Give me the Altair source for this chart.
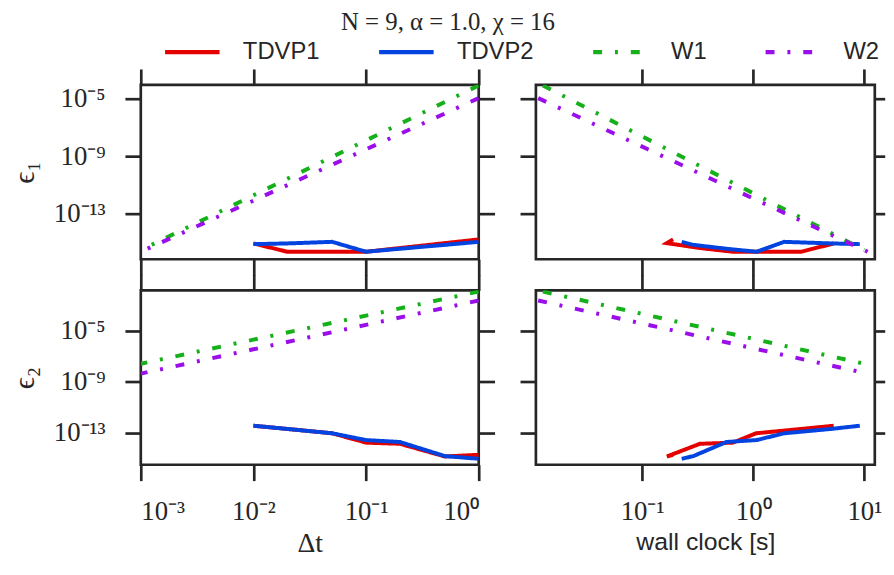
import altair as alt
import pandas as pd

# ---------------- data ----------------
methods = ["TDVP1", "TDVP2", "W1", "W2"]
colors = ["#e50000", "#0343df", "#15b01a", "#9a0eea"]

# TDVP runs (time steps, in plotting order)
tdvp_dt = [1.0, 0.5, 0.2, 0.1, 0.05, 0.02, 0.01]
tdvp1_eps1_log10 = [-14.79, -15.05, -15.39, -15.65, -15.65, -15.65, -15.07]
tdvp1_eps2_log10 = [-14.70, -14.83, -13.84, -13.75, -13.02, -12.68, -12.43]
tdvp1_wall = [0.19, 0.167, 0.331, 0.656, 1.06, 2.7, 5.3]
tdvp2_eps1_log10 = [-14.96, -15.17, -15.44, -15.65, -14.96, -15.07, -15.12]
tdvp2_eps2_log10 = [-15.01, -14.80, -13.70, -13.55, -13.02, -12.68, -12.43]
tdvp2_wall = [0.227, 0.289, 0.573, 1.07, 1.9, 5.0, 9.1]

# W^I / W^II runs
w_dt = [1.0, 0.1, 0.01, 0.001]
w1_eps1_log10 = [-4.08, -7.90, -11.72, -15.53]
w2_eps1_log10 = [-4.96, -8.52, -12.09, -15.65]
w1_eps2_log10 = [-1.95, -3.83, -5.71, -7.59]
w2_eps2_log10 = [-2.65, -4.55, -6.46, -8.36]
w1_wall = [0.0128, 0.1175, 1.084, 10.0]
w2_wall = [0.0116, 0.1127, 1.099, 10.7]

dt_ticks = [1e-3, 1e-2, 1e-1, 1.0]
wall_ticks = [0.1, 1.0, 10.0]
eps_ticks = [1e-13, 1e-9, 1e-5]

rows = []
def add(method, dts, e1, e2, wall):
    for i, (d, a, b, w) in enumerate(zip(dts, e1, e2, wall)):
        rows.append(dict(method=method, step=i, dt=d, wall=w,
                         eps1=10 ** a, eps2=10 ** b))

add("TDVP1", tdvp_dt, tdvp1_eps1_log10, tdvp1_eps2_log10, tdvp1_wall)
add("TDVP2", tdvp_dt, tdvp2_eps1_log10, tdvp2_eps2_log10, tdvp2_wall)
add("W1", w_dt, w1_eps1_log10, w1_eps2_log10, w1_wall)
add("W2", w_dt, w2_eps1_log10, w2_eps2_log10, w2_wall)
df = pd.DataFrame(rows)

# ---------------- styling ----------------
INK = "#262626"
SERIF = "Liberation Serif"
SANS = "Liberation Sans"
SUP = {"-": "\u207b", "0": "\u2070", "1": "\u00b9", "2": "\u00b2", "3": "\u00b3",
       "4": "\u2074", "5": "\u2075", "6": "\u2076", "7": "\u2077", "8": "\u2078", "9": "\u2079"}

def label_expr(exps):
    e = "round(log(datum.value)/LN10)"
    expr = "''"
    for k in exps:
        lab = "10" + "".join(SUP[c] for c in str(k))
        expr = f"({e} == {k}) ? '{lab}' : {expr}"
    return expr

dashes = [[1, 0], [1, 0], [9, 13, 3, 13], [9, 13, 3, 13]]
cscale = alt.Scale(domain=methods, range=colors)
dscale = alt.Scale(domain=methods, range=dashes)

legend = alt.Legend(orient="none", legendX=22, legendY=-63, direction="horizontal",
                    columns=4, title=None, symbolType="stroke", symbolSize=3025,
                    symbolStrokeWidth=4.5, labelFont=SANS, labelFontSize=24,
                    labelColor=INK, labelOffset=21, columnPadding=50)

def axis(orient, values, exps=None, title=None, title_font=SERIF, title_size=30,
         tick=16, title_pad=10, label_pad=20):
    kw = dict(orient=orient, values=values, tickSize=tick, tickWidth=2.7,
              tickColor=INK, domain=False, grid=False)
    if exps is not None:
        kw.update(labels=True, labelExpr=label_expr(exps), labelFont=SERIF,
                  labelFontSize=27, labelColor=INK, labelPadding=label_pad)
    else:
        kw.update(labels=False)
    if title is not None:
        kw.update(title=title, titleFont=title_font, titleFontSize=title_size,
                  titleFontWeight="normal", titleColor=INK, titlePadding=title_pad)
    else:
        kw.update(title=None)
    return alt.Axis(**kw)

def panel(xfield, yfield, xdom, ydom, xticks, width, xexps=None, yexps=None,
          xtitle=None, xtitle_font=SERIF, ytitle=None, right_tick=16):
    xs = alt.Scale(type="log", domain=xdom)
    ys = alt.Scale(type="log", domain=ydom)
    lines = alt.Chart(df).mark_line(strokeWidth=4, clip=True).encode(
        x=alt.X(f"{xfield}:Q", scale=xs,
                axis=axis("bottom", xticks, xexps, xtitle, xtitle_font,
                          28 if xtitle_font == SERIF else 25, title_pad=6,
                          label_pad=18)),
        y=alt.Y(f"{yfield}:Q", scale=ys,
                axis=axis("left", eps_ticks, yexps, ytitle, title_pad=14)),
        color=alt.Color("method:N", scale=cscale, legend=legend),
        strokeDash=alt.StrokeDash("method:N", scale=dscale, legend=legend),
        order=alt.Order("step:Q"),
    )
    mirror = alt.Chart(df).mark_line(opacity=0).encode(
        x=alt.X(f"{xfield}:Q", scale=xs, axis=axis("top", xticks)),
        y=alt.Y(f"{yfield}:Q", scale=ys, axis=axis("right", eps_ticks, tick=right_tick)),
        detail="method:N",
    )
    return alt.layer(lines, mirror).resolve_axis(x="independent", y="independent") \
        .properties(width=width, height=176)

dt_dom = [1e-3, 1.0]
wall_dom = [10 ** -1.956, 10 ** 1.094]
e1_dom = [10 ** -16.17, 10 ** -4.034]
e2_dom = [10 ** -15.477, 10 ** -1.858]

tl = panel("dt", "eps1", dt_dom, e1_dom, dt_ticks, 341, yexps=[-5, -9, -13],
           ytitle="\u03f5\u2081")
tr = panel("wall", "eps1", wall_dom, e1_dom, wall_ticks, 342, right_tick=10)
bl = panel("dt", "eps2", dt_dom, e2_dom, dt_ticks, 341, xexps=[-3, -2, -1, 0],
           yexps=[-5, -9, -13], xtitle="\u0394t", ytitle="\u03f5\u2082")
br = panel("wall", "eps2", wall_dom, e2_dom, wall_ticks, 342, xexps=[-1, 0, 1],
           xtitle="wall clock [s]", xtitle_font=SANS, right_tick=10)

chart = alt.concat(
    tl, tr, bl, br, columns=2,
    spacing={"row": 31.4, "column": 57.7}, bounds="flush",
).properties(
    title=alt.TitleParams("N = 9, \u03b1 = 1.0, \u03c7 = 16", font=SERIF, fontSize=25,
                          fontWeight="normal", color=INK, anchor="middle",
                          frame="bounds", offset=-13),
    padding={"left": 0, "top": 0, "right": -2, "bottom": 0},
).resolve_scale(color="shared", strokeDash="shared").configure(
    background="white"
).configure_view(stroke=INK, strokeWidth=2.7)

chart.save("out.html", embed_options={"renderer": "svg", "actions": False})
